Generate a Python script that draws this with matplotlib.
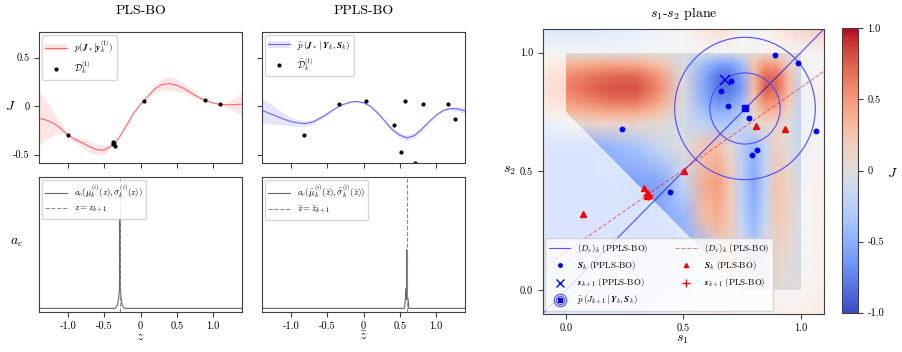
import matplotlib
matplotlib.use("Agg")
import matplotlib.pyplot as plt
import numpy as np
from matplotlib.cm import ScalarMappable
from matplotlib.colors import Normalize
from matplotlib.lines import Line2D
from matplotlib.patches import Circle, Patch, PathPatch
from matplotlib.path import Path

plt.rcParams.update({
    "font.family": "serif",
    "font.serif": ["cmr10", "DejaVu Serif"],
    "mathtext.fontset": "cm",
    "axes.unicode_minus": False,
    "axes.formatter.use_mathtext": True,
    "axes.edgecolor": "0.25",
    "axes.linewidth": 0.8,
    "xtick.color": "0.25",
    "ytick.color": "0.25",
    "xtick.labelcolor": "black",
    "ytick.labelcolor": "black",
    "xtick.labelsize": 7.5,
    "ytick.labelsize": 7.5,
    "xtick.major.width": 0.8,
    "ytick.major.width": 0.8,
    "xtick.major.size": 3.5,
    "ytick.major.size": 3.5,
})

# --- 1-D GP posteriors (top row) ------------------------------------------
Z_GRID = [-1.4, -1.3, -1.2, -1.1, -1.0, -0.9, -0.8, -0.7, -0.6, -0.5, -0.4,
          -0.3, -0.2, -0.1, 0.0, 0.1, 0.2, 0.3, 0.4, 0.5, 0.6, 0.7, 0.8,
          0.9, 1.0, 1.1, 1.2, 1.3, 1.4]
MU_PLS = [-0.125, -0.145, -0.175, -0.23, -0.30, -0.345, -0.38, -0.42, -0.45,
          -0.455, -0.41, -0.33, -0.21, -0.08, 0.02, 0.10, 0.18, 0.222, 0.231,
          0.215, 0.18, 0.135, 0.09, 0.057, 0.032, 0.017, 0.012, 0.015, 0.02]
BAND_PLS = [0.28, 0.20, 0.12, 0.05, 0.0, 0.03, 0.05, 0.06, 0.055, 0.045,
            0.01, 0.01, 0.02, 0.02, 0.01, 0.01, 0.04, 0.06, 0.07, 0.065,
            0.05, 0.035, 0.015, 0.0, 0.008, 0.0, 0.03, 0.07, 0.12]
MU_PPLS = [-0.045, -0.075, -0.105, -0.135, -0.16, -0.175, -0.18, -0.165,
           -0.125, -0.08, -0.03, 0.01, 0.038, 0.048, 0.035, -0.005, -0.075,
           -0.16, -0.245, -0.30, -0.328, -0.305, -0.24, -0.165, -0.095,
           -0.045, -0.025, -0.03, -0.05]
BAND_PPLS = [0.13, 0.11, 0.085, 0.06, 0.045, 0.035, 0.03, 0.025, 0.02, 0.015,
             0.008, 0.005, 0.01, 0.012, 0.01, 0.012, 0.015, 0.015, 0.02,
             0.025, 0.03, 0.025, 0.02, 0.015, 0.012, 0.01, 0.015, 0.025, 0.035]

DATA_Z_PLS = [-1.0, -0.386, -0.373, -0.36, -0.35, 0.05, 0.89, 1.10]
DATA_J_PLS = [-0.30, -0.372, -0.386, -0.38, -0.41, 0.055, 0.059, 0.017]
DATA_Z_PPLS = [-0.823, -0.336, 0.032, 0.414, 0.523, 0.568, 0.709, 0.823,
               1.159, 1.259]
DATA_J_PPLS = [-0.30, 0.021, 0.055, -0.20, -0.476, 0.048, -0.586, 0.021,
               0.017, -0.134]

# --- acquisition functions (bottom row) -----------------------------------
ACQ_Z_PLS = [-1.4, -0.35, -0.32, -0.30, -0.29, -0.283, -0.276, -0.27, -0.25,
             -0.22, 1.4]
ACQ_PLS = [0.0, 0.0, 0.03, 0.12, 0.2, 1.0, 0.2, 0.12, 0.03, 0.0, 0.0]
Z_NEXT_PLS = -0.283
ACQ_Z_PPLS = [-1.4, 0.565, 0.58, 0.588, 0.593, 0.598, 0.603, 0.61, 0.618,
              0.625, 1.4]
ACQ_PPLS = [0.0, 0.0, 0.12, 0.22, 0.1, 0.65, 0.1, 0.12, 0.08, 0.0, 0.0]
Z_NEXT_PPLS = 0.598

# --- s1-s2 plane -----------------------------------------------------------
S1_GRID = [-0.1, 0.0, 0.1, 0.2, 0.3, 0.4, 0.5, 0.6, 0.65, 0.7, 0.75, 0.8,
           0.85, 0.9, 0.95, 1.0, 1.1]
S2_GRID = [-0.1, 0.0, 0.15, 0.3, 0.45, 0.6, 0.7, 0.75, 0.8, 0.85, 0.9, 0.95,
           1.0, 1.1]
J_GRID = [
    [-0.4, -0.4, -0.4, -0.4, -0.4, -0.3, -0.1, 0.2, 0.3, 0.2, 0.0, -0.1, 0.0, 0.2, 0.2, 0.2, 0.3],
    [-0.5, -0.5, -0.5, -0.5, -0.5, -0.45, -0.3, 0.0, 0.1, 0.05, 0.0, -0.05, 0.0, 0.05, 0.0, 0.0, 0.2],
    [-0.55, -0.55, -0.55, -0.55, -0.55, -0.55, -0.5, -0.4, 0.05, 0.15, -0.05, -0.3, 0.0, 0.12, 0.05, -0.05, 0.2],
    [-0.55, -0.55, -0.55, -0.55, -0.55, -0.55, -0.45, 0.3, 0.38, 0.2, -0.2, -0.45, -0.15, 0.2, 0.12, -0.05, 0.2],
    [-0.55, -0.55, -0.55, -0.55, -0.6, -0.55, -0.2, 0.42, 0.48, 0.2, -0.25, -0.55, -0.2, 0.25, 0.12, -0.1, 0.2],
    [-0.55, -0.55, -0.55, -0.45, -0.35, -0.15, 0.0, 0.25, 0.28, 0.08, -0.25, -0.45, -0.15, 0.15, 0.0, -0.15, 0.1],
    [-0.3, -0.05, 0.1, 0.1, 0.1, 0.05, -0.1, -0.25, -0.3, -0.3, -0.2, 0.0, 0.1, 0.1, 0.0, -0.2, 0.0],
    [0.15, 0.3, 0.38, 0.42, 0.4, 0.25, -0.05, -0.4, -0.5, -0.45, -0.3, 0.1, 0.35, 0.3, 0.1, -0.2, 0.1],
    [0.35, 0.5, 0.6, 0.68, 0.68, 0.45, 0.0, -0.55, -0.7, -0.65, -0.45, 0.25, 0.6, 0.55, 0.2, -0.2, 0.2],
    [0.45, 0.6, 0.72, 0.8, 0.8, 0.55, 0.0, -0.6, -0.8, -0.8, -0.6, 0.3, 0.75, 0.7, 0.3, -0.2, 0.2],
    [0.4, 0.55, 0.65, 0.72, 0.72, 0.5, 0.0, -0.6, -0.82, -0.8, -0.55, 0.3, 0.72, 0.68, 0.3, -0.15, 0.1],
    [0.2, 0.35, 0.42, 0.45, 0.42, 0.28, -0.05, -0.45, -0.6, -0.6, -0.4, 0.25, 0.5, 0.45, 0.15, -0.1, 0.1],
    [0.0, 0.0, 0.0, 0.0, 0.0, 0.0, 0.0, -0.05, -0.05, -0.05, 0.0, 0.05, 0.05, 0.05, 0.0, 0.0, 0.1],
    [-0.5, -0.5, -0.5, -0.4, -0.3, -0.2, 0.0, 0.4, 0.5, 0.4, 0.0, -0.2, 0.0, 0.3, 0.5, 0.7, 0.8],
]
REGION_S1 = [0.0, 0.0, 1.0, 1.0, 0.75]
REGION_S2 = [0.75, 1.0, 1.0, 0.0, 0.0]

S1_PPLS = [0.891, 0.989, 0.705, 0.660, 0.691, 0.779, 0.237, 1.068, 0.813, 0.794, 0.443]
S2_PPLS = [0.990, 0.957, 0.879, 0.837, 0.777, 0.723, 0.678, 0.671, 0.589, 0.569, 0.414]
S1_PLS = [0.810, 0.932, 0.502, 0.333, 0.350, 0.346, 0.355, 0.343, 0.070]
S2_PLS = [0.692, 0.679, 0.501, 0.431, 0.404, 0.397, 0.400, 0.409, 0.322]
NEXT_PPLS = (0.678, 0.885)
NEXT_PLS = (0.350, 0.400)
PRED_CENTER = (0.763, 0.765)
PRED_RADII = [0.15, 0.30]
DZ_PPLS_S1, DZ_PPLS_S2 = [-0.1, 1.1], [-0.1, 1.1]
DZ_PLS_S1, DZ_PLS_S2 = [-0.11, 1.1], [0.085, 0.922]

Z_TICKS = [-1.0, -0.5, 0.0, 0.5, 1.0]
Z_TICK_LABELS = ["-1.0", "-0.5", "0", "0.5", "1.0"]
J_TICKS = [-0.5, 0.0, 0.5]
J_TICK_LABELS = ["-0.5", "0", "0.5"]
S_TICKS = [0.0, 0.5, 1.0]
S_TICK_LABELS = ["0.0", "0.5", "1.0"]
CB_TICKS = [-1.0, -0.5, 0.0, 0.5, 1.0]
CB_TICK_LABELS = ["-1.0", "-0.5", "0", "0.5", "1.0"]

W, H = 902, 352


def px_axes(fig, left, top, right, bottom):
    return fig.add_axes([left / W, 1 - bottom / H, (right - left) / W, (bottom - top) / H])


fig = plt.figure(figsize=(W / 100, H / 100), dpi=100)
ax_pls = px_axes(fig, 39, 32.3, 242, 163.3)
ax_ppls = px_axes(fig, 262, 32.3, 465, 163.3)
ax_acq_pls = px_axes(fig, 39, 177.3, 242, 311.7)
ax_acq_ppls = px_axes(fig, 262, 177.3, 465, 311.7)
ax_plane = px_axes(fig, 542.7, 29, 824, 313.7)
cax = px_axes(fig, 841.7, 28.3, 857.7, 312.7)

# top row: posteriors
for ax, mu, band, dz, dj, color in [
        (ax_pls, MU_PLS, BAND_PLS, DATA_Z_PLS, DATA_J_PLS, "red"),
        (ax_ppls, MU_PPLS, BAND_PPLS, DATA_Z_PPLS, DATA_J_PPLS, "blue")]:
    mu, band = np.array(mu), np.array(band)
    ax.fill_between(Z_GRID, mu - band, mu + band, color=color, alpha=0.1, lw=0)
    ax.plot(Z_GRID, mu, color=color, alpha=0.55, lw=0.8)
    ax.plot(dz, dj, ".", color="black", ms=4)
    ax.set_xlim(-1.4, 1.4)
    ax.set_ylim(-0.59, 0.76)
    ax.set_xticks(Z_TICKS)
    ax.set_xticklabels([])
    ax.set_yticks(J_TICKS)

ax_pls.set_yticklabels(J_TICK_LABELS)
ax_ppls.set_yticklabels([])
ax_pls.set_title("PLS-BO", fontsize=10, pad=13)
ax_ppls.set_title("PPLS-BO", fontsize=10, pad=13)
ax_pls.set_ylabel("$J$", rotation=0, fontsize=10, va="center", ha="center")
ax_pls.yaxis.set_label_coords(-0.143, 0.437)

ax_pls.legend(
    [(Patch(facecolor="red", alpha=0.1), Line2D([], [], color="red", alpha=0.55, lw=0.8)),
     Line2D([], [], ls="none", marker=".", color="black", ms=4)],
    [r"$p(\boldsymbol{J}_*|\boldsymbol{y}_k^{(1)})$", r"$\mathcal{D}_k^{(1)}$"],
    loc="upper left", fontsize=6.5, handlelength=2.4, borderaxespad=0.3)
ax_ppls.legend(
    [(Patch(facecolor="blue", alpha=0.1), Line2D([], [], color="blue", alpha=0.55, lw=0.8)),
     Line2D([], [], ls="none", marker=".", color="black", ms=4)],
    [r"$\hat{p}\,(\boldsymbol{J}_*\,|\,\boldsymbol{Y}_k,\boldsymbol{S}_k)$",
     r"$\hat{\mathcal{D}}_k^{(1)}$"],
    loc="upper left", fontsize=6.5, handlelength=2.4, borderaxespad=0.3)

# bottom row: acquisition functions
for ax, zz, acq, znext, labels, xlabel in [
        (ax_acq_pls, ACQ_Z_PLS, ACQ_PLS, Z_NEXT_PLS,
         [r"$a_c(\mu_k^{(i)}(z),\sigma_k^{(i)}(z))$", r"$z=z_{k+1}$"], "$z$"),
        (ax_acq_ppls, ACQ_Z_PPLS, ACQ_PPLS, Z_NEXT_PPLS,
         [r"$a_c(\hat{\mu}_k^{(i)}(\bar{z}),\hat{\sigma}_k^{(i)}(\bar{z}))$",
          r"$\bar{z}=\bar{z}_{k+1}$"], r"$\bar{z}$")]:
    ax.plot(zz, acq, color="0.4", lw=0.8, label=labels[0])
    ax.axvline(znext, color="0.55", ls="--", lw=0.8, label=labels[1])
    ax.set_xlim(-1.4, 1.4)
    ax.set_ylim(-0.037, 1.455)
    ax.set_yticks([])
    ax.set_xticks(Z_TICKS)
    ax.set_xticklabels(Z_TICK_LABELS)
    ax.set_xlabel(xlabel, fontsize=10, va="center")
    ax.xaxis.set_label_coords(0.5, -0.19)
    ax.legend(loc="upper left", fontsize=6.4, handlelength=2.4, borderaxespad=0.3)

ax_acq_pls.set_ylabel("$a_c$", rotation=0, fontsize=10, va="center", ha="center")
ax_acq_pls.yaxis.set_label_coords(-0.11, 0.516)

# right: s1-s2 plane -- field everywhere, washed out outside the region
S1, S2 = np.meshgrid(S1_GRID, S2_GRID)
J = np.array(J_GRID)
ax_plane.pcolormesh(S1, S2, J, cmap="coolwarm", vmin=-1, vmax=1,
                    shading="gouraud", zorder=0)
outer = [(-0.3, -0.3), (1.3, -0.3), (1.3, 1.3), (-0.3, 1.3), (-0.3, -0.3)]
inner = list(zip(REGION_S1, REGION_S2)) + [(REGION_S1[0], REGION_S2[0])]
codes = ([Path.MOVETO] + [Path.LINETO] * (len(outer) - 2) + [Path.CLOSEPOLY]
         + [Path.MOVETO] + [Path.LINETO] * (len(inner) - 2) + [Path.CLOSEPOLY])
ax_plane.add_patch(PathPatch(Path(outer + inner, codes), facecolor="white",
                             edgecolor="none", alpha=0.7, zorder=1))

ax_plane.plot(DZ_PPLS_S1, DZ_PPLS_S2, color="blue", lw=0.8, alpha=0.65, zorder=2)
ax_plane.plot(DZ_PLS_S1, DZ_PLS_S2, color="red", ls="--", lw=0.8, alpha=0.5, zorder=2)
for r in PRED_RADII:
    ax_plane.add_patch(Circle(PRED_CENTER, r, fill=False, ec="#4d4dff", lw=0.8, zorder=2))
ax_plane.plot(S1_PPLS, S2_PPLS, "o", color="blue", ms=3.2, zorder=3)
ax_plane.plot(S1_PLS, S2_PLS, "^", color="red", ms=3.8, zorder=3)
ax_plane.plot(*NEXT_PPLS, "x", color="blue", ms=7, mew=1.1, zorder=4)
ax_plane.plot(*NEXT_PLS, "+", color="red", ms=7, mew=1.0, zorder=4)
ax_plane.plot(*PRED_CENTER, "s", color="blue", ms=4, zorder=4)

ax_plane.set_xlim(-0.1, 1.1)
ax_plane.set_ylim(-0.1, 1.1)
ax_plane.set_xticks(S_TICKS)
ax_plane.set_xticklabels(S_TICK_LABELS)
ax_plane.set_yticks(S_TICKS)
ax_plane.set_yticklabels(S_TICK_LABELS)
ax_plane.set_title("$s_1$-$s_2$ plane", fontsize=10, pad=9)
ax_plane.set_xlabel("$s_1$", fontsize=10, va="center")
ax_plane.xaxis.set_label_coords(0.498, -0.092)
ax_plane.set_ylabel("$s_2$", rotation=0, fontsize=10, va="center", ha="center")
ax_plane.yaxis.set_label_coords(-0.119, 0.502)

pred_handle = (
    Line2D([], [], ls="none", marker="o", ms=9, mfc="none", mec="#4d4dff", mew=0.8),
    Line2D([], [], ls="none", marker="o", ms=6, mfc="none", mec="#4d4dff", mew=0.8),
    Line2D([], [], ls="none", marker="s", ms=2.5, color="blue"))
handles = [
    Line2D([], [], color="blue", lw=0.8, alpha=0.65),
    Line2D([], [], ls="none", marker="o", ms=2.5, color="blue"),
    Line2D([], [], ls="none", marker="x", ms=6, mew=1.0, color="blue"),
    pred_handle,
    Line2D([], [], color="red", ls="--", lw=0.8, alpha=0.5),
    Line2D([], [], ls="none", marker="^", ms=3, color="red"),
    Line2D([], [], ls="none", marker="+", ms=6, mew=1.0, color="red"),
]
labels = [
    "$(D_z)_k$ (PPLS-BO)",
    r"$\boldsymbol{S}_k$ (PPLS-BO)",
    r"$\boldsymbol{s}_{k+1}$ (PPLS-BO)",
    r"$\hat{p}\,(J_{k+1}\,|\,\boldsymbol{Y}_k,\boldsymbol{S}_k)$",
    "$(D_z)_k$ (PLS-BO)",
    r"$\boldsymbol{S}_k$ (PLS-BO)",
    r"$\boldsymbol{s}_{k+1}$ (PLS-BO)",
]
leg = ax_plane.legend(handles, labels, loc="lower left", ncol=2, fontsize=6.4,
                      handlelength=2.4, columnspacing=3.0, borderaxespad=0.3,
                      framealpha=0.8)
leg.set_zorder(10)

cb = fig.colorbar(ScalarMappable(norm=Normalize(-1, 1), cmap="coolwarm"), cax=cax)
cb.set_ticks(CB_TICKS)
cb.set_ticklabels(CB_TICK_LABELS)
cb.outline.set_edgecolor("0.25")
cb.outline.set_linewidth(0.8)
cax.set_ylabel("$J$", rotation=0, fontsize=10, va="center", ha="center")
cax.yaxis.set_label_coords(3.2, 0.49)

fig.savefig("out.png", dpi=100)
